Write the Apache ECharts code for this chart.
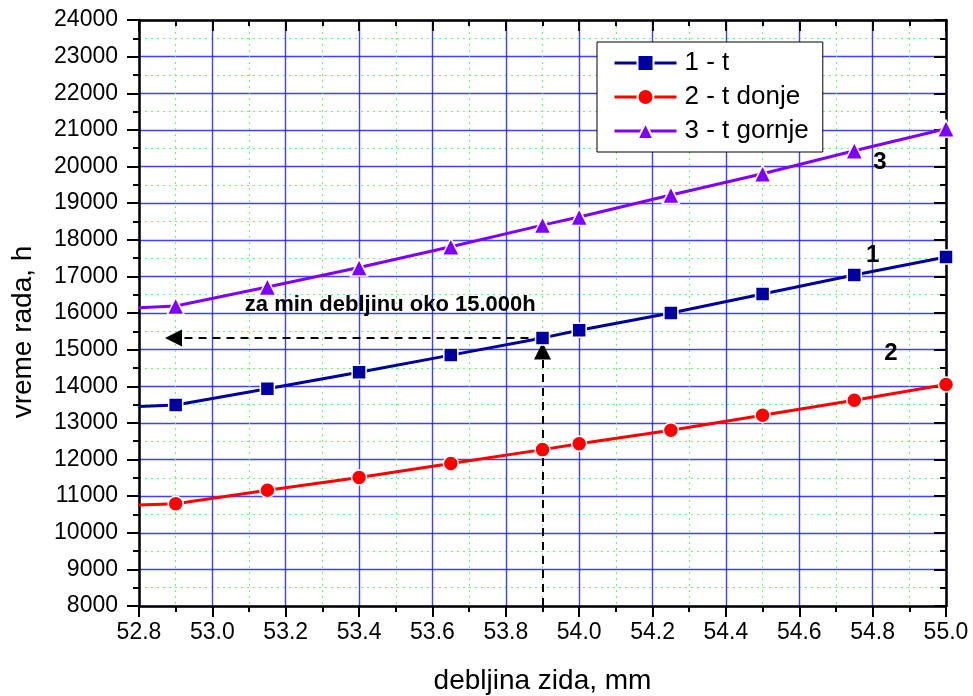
<!DOCTYPE html>
<html>
<head>
<meta charset="utf-8">
<script src="https://cdn.jsdelivr.net/npm/echarts@6/dist/echarts.min.js"></script>
<style>html,body{margin:0;padding:0;background:#fff}#c{width:973px;height:696px}</style>
</head>
<body>
<div id="c"></div>
<script>
// data
const xValues = [52.8, 52.9, 53.15, 53.4, 53.65, 53.9, 54.0, 54.25, 54.5, 54.75, 55.0];
const series1 = [13450, 13490, 13930, 14380, 14850, 15320, 15530, 16000, 16520, 17040, 17530];
const series2 = [10760, 10790, 11160, 11510, 11890, 12270, 12430, 12800, 13210, 13620, 14050];
const series3 = [16140, 16190, 16710, 17240, 17810, 18400, 18620, 19220, 19800, 20430, 21030];
const seriesNames = ['1 - t', '2 - t donje', '3 - t gornje'];
const xRange = [52.8, 55.0, 0.2];
const yRange = [8000, 24000, 1000];
const arrowH = [[53.9, 15320], [52.894, 15320]];
const arrowV = [[53.9, 8000], [53.9, 14960]];
const notes = [[53.485, 16230, 'za min debljinu oko 15.000h', 22], [54.82, 20120, '3', 24], [54.8, 17580, '1', 24], [54.85, 14900, '2', 24]];

const font = 'Liberation Sans, Arial, sans-serif';
function pts(vals) {
  return xValues.map((x, i) => i === 0 ? { value: [x, vals[i]], symbol: 'none' } : [x, vals[i]]);
}
const axisLine = { show: true, lineStyle: { color: '#000', width: 2.5 } };
const majorGrid = { show: true, lineStyle: { color: 'rgba(30,30,255,0.85)', width: 1.4 } };
const minorGrid = { show: true, lineStyle: { color: '#5cff5c', width: 1, type: [2, 4] } };

const chart = echarts.init(document.getElementById('c'));
function mkSeries(name, vals, color, symbol, size) {
  return {
    name: name, type: 'line', data: pts(vals), xAxisIndex: 0, yAxisIndex: 0,
    symbol: symbol, symbolSize: size, showAllSymbol: true,
    lineStyle: { color: color, width: 3 },
    itemStyle: { color: color, borderColor: '#fff', borderWidth: 1.5 },
    z: 5, animation: false
  };
}
const s1 = mkSeries(seriesNames[0], series1, '#0000a0', 'rect', 14);
const s2 = mkSeries(seriesNames[1], series2, '#ff0000', 'circle', 15);
const s3 = mkSeries(seriesNames[2], series3, '#8000ff', 'triangle', 17);
const noteSeries = {
  type: 'scatter', symbolSize: 0, silent: true, animation: false, z: 6,
  itemStyle: { color: '#000', opacity: 1 },
  data: notes.map(n => ({ value: [n[0], n[1]], label: { fontSize: n[3] }, name: n[2] })),
  label: { show: true, position: 'inside', formatter: p => p.name, color: '#000', textBorderWidth: 0, fontWeight: 'bold', fontFamily: font },
  tooltip: { show: false },
  markLine: {
    silent: true, animation: false, symbol: ['none', 'triangle'], symbolSize: 17,
    label: { show: false },
    lineStyle: { color: '#000', width: 2, type: [8, 6] },
    itemStyle: { color: '#000', opacity: 1 },
    data: [
      [{ coord: arrowH[0] }, { coord: arrowH[1] }],
      [{ coord: arrowV[0] }, { coord: arrowV[1] }]
    ]
  }
};

chart.setOption({
  animation: false,
  backgroundColor: '#fff',
  grid: { left: 139, right: 27, top: 20, bottom: 90, outerBoundsMode: 'none', containLabel: false },
  legend: {
    orient: 'vertical', left: 597, top: 42, width: 226,
    padding: [8, 14, 8, 16], itemGap: 8, itemWidth: 62, itemHeight: 20,
    lineStyle: { width: 3 },
    backgroundColor: '#fff', borderColor: '#000', borderWidth: 1,
    textStyle: { fontSize: 26, fontFamily: font, color: '#000', padding: [0, 0, 0, 3] },
    data: seriesNames
  },
  xAxis: [{
    type: 'value', position: 'bottom', min: xRange[0], max: xRange[1], interval: xRange[2],
    name: 'debljina zida, mm', nameLocation: 'middle', nameGap: 61,
    nameTextStyle: { fontSize: 28, fontFamily: font, color: '#000' },
    axisLine: axisLine, axisTick: { show: true, length: 11, lineStyle: { width: 2, color: '#000' } },
    minorTick: { show: true, splitNumber: 2, length: 6, lineStyle: { width: 2, color: '#000' } },
    axisLabel: { fontSize: 23, fontFamily: font, color: '#000', margin: 15, formatter: v => v.toFixed(1) },
    splitLine: majorGrid, minorSplitLine: minorGrid
  }, {
    type: 'value', position: 'top', min: xRange[0], max: xRange[1], interval: xRange[2],
    axisLine: axisLine, axisTick: { show: true, inside: true, length: 11, lineStyle: { width: 2, color: '#000' } },
    minorTick: { show: true, splitNumber: 2, length: 6, lineStyle: { width: 2, color: '#000' } },
    axisLabel: { show: false }, splitLine: { show: false }
  }],
  yAxis: [{
    type: 'value', position: 'left', min: yRange[0], max: yRange[1], interval: yRange[2],
    name: 'vreme rada, h', nameLocation: 'middle', nameGap: 102,
    nameTextStyle: { fontSize: 28, fontFamily: font, color: '#000', padding: [0, 38, 0, 0] },
    axisLine: axisLine, axisTick: { show: true, length: 12, lineStyle: { width: 2, color: '#000' } },
    minorTick: { show: true, splitNumber: 2, length: 6, lineStyle: { width: 2, color: '#000' } },
    axisLabel: { fontSize: 23, fontFamily: font, color: '#000', margin: 21, formatter: v => String(v) },
    splitLine: majorGrid, minorSplitLine: minorGrid
  }, {
    type: 'value', position: 'right', min: yRange[0], max: yRange[1], interval: yRange[2],
    axisLine: axisLine, axisTick: { show: true, inside: true, length: 12, lineStyle: { width: 2, color: '#000' } },
    minorTick: { show: true, splitNumber: 2, length: 6, lineStyle: { width: 2, color: '#000' } },
    axisLabel: { show: false }, splitLine: { show: false }
  }],
  series: [s1, s2, s3, noteSeries]
});
</script>
</body>
</html>
